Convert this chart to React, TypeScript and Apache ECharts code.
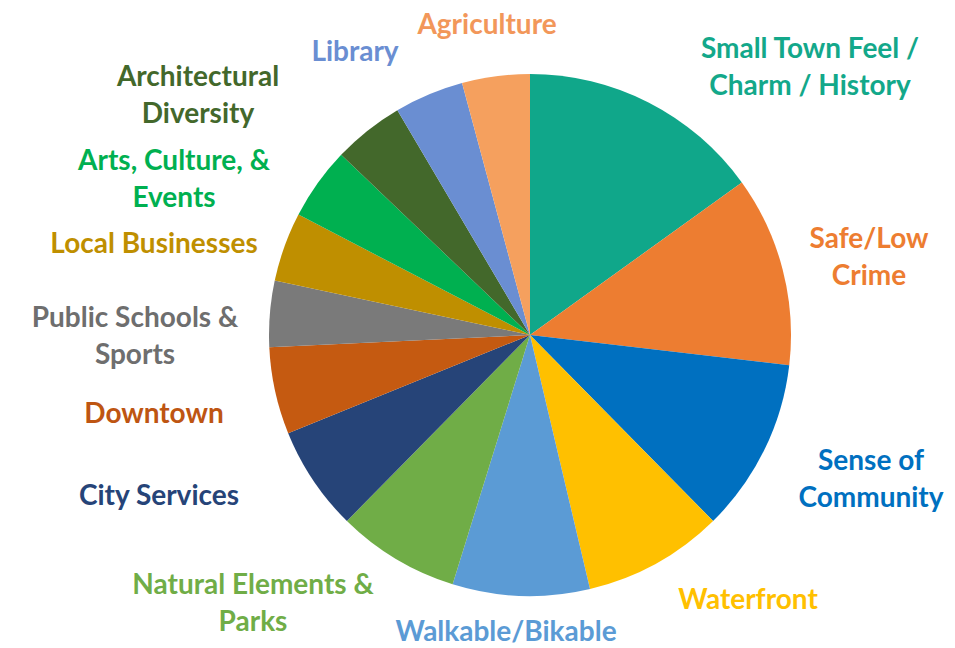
import React, { useEffect, useRef } from "react";
import * as echarts from "echarts";

// Categories, clockwise from 12 o'clock
const categories = [
  "Small Town Feel /\nCharm / History",
  "Safe/Low\nCrime",
  "Sense of\nCommunity",
  "Waterfront",
  "Walkable/Bikable",
  "Natural Elements &\nParks",
  "City Services",
  "Downtown",
  "Public Schools &\nSports",
  "Local Businesses",
  "Arts, Culture, &\nEvents",
  "Architectural\nDiversity",
  "Library",
  "Agriculture",
];

// Share of responses (%)
const values = [15.1, 11.8, 10.8, 8.7, 8.5, 7.6, 6.5, 5.4, 4.1, 4.3, 4.5, 4.4, 4.3, 4.2];

const sliceColors = [
  "#10A78A", "#ED7D31", "#0070C0", "#FFC000", "#5B9BD5", "#70AD47", "#264478",
  "#C55A11", "#7A7A7A", "#BF8F00", "#00B050", "#43682B", "#6A8ED2", "#F5A05E",
];
const labelColors = [
  "#13A88A", "#ED7D31", "#0070C0", "#FFC000", "#5B9BD5", "#70AD47", "#264478",
  "#BE5512", "#6E6E6E", "#BF8F00", "#00B050", "#43682B", "#6A8ED2", "#F2975A",
];

// Label block centres, relative to the pie centre (layout only)
const labelOffsets = [
  [280, -270], [339, -80], [341, 142], [218, 263], [-24, 295], [-277, 266], [-371, 159],
  [-376, 77], [-395, -1], [-376, -93], [-356, -158], [-332, -242], [-175, -285], [-43, -312],
];

const CX = 530;
const CY = 335;
const R = 261;

export default function App() {
  const ref = useRef<HTMLDivElement>(null);
  useEffect(() => {
    document.body.style.margin = "0";
    if (!ref.current) return;
    const chart = echarts.init(ref.current, null, { renderer: "svg" });
    chart.setOption({
      animation: false,
      backgroundColor: "#ffffff",
      series: [
        {
          type: "pie",
          center: [CX, CY],
          radius: R,
          startAngle: 90,
          clockwise: true,
          avoidLabelOverlap: false,
          label: {
            show: true,
            position: "outside",
            fontFamily: "Lato",
            fontWeight: "bold",
            fontSize: 28,
            lineHeight: 37,
          },
          labelLine: { show: false },
          labelLayout: (params: any) => {
            const o = labelOffsets[params.dataIndex];
            return {
              x: CX + o[0],
              y: CY + o[1],
              align: "center",
              verticalAlign: "middle",
            };
          },
          itemStyle: { borderWidth: 0 },
          emphasis: { disabled: true },
          data: categories.map((name, i) => ({
            name,
            value: values[i],
            itemStyle: { color: sliceColors[i] },
            label: { color: labelColors[i] },
          })),
        },
      ],
    });
    return () => chart.dispose();
  }, []);
  return <div ref={ref} style={{ width: 955, height: 648 }} />;
}
